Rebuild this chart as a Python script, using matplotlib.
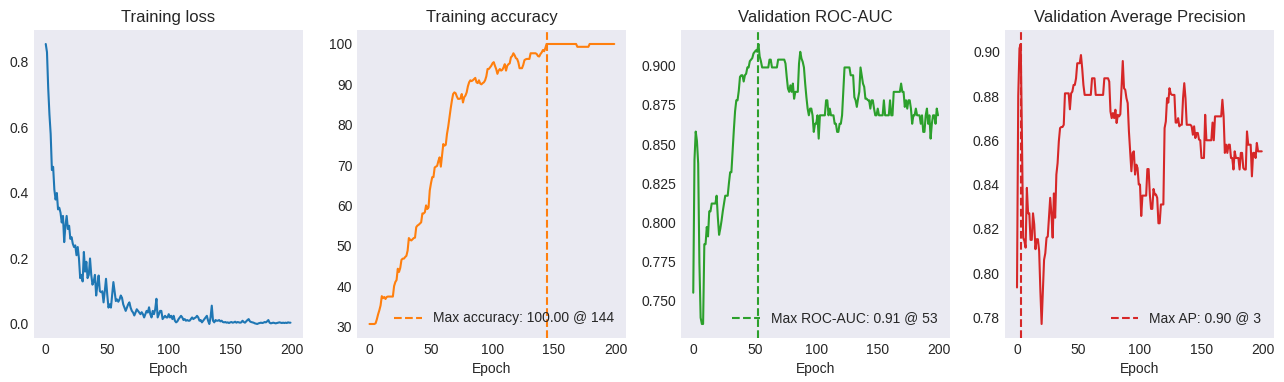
import matplotlib
matplotlib.use("Agg")
import matplotlib.pyplot as plt
import numpy as np

plt.style.use("seaborn-v0_8-dark")

epochs = list(range(200))

train_loss = [
    0.855, 0.83, 0.72, 0.64, 0.58, 0.47, 0.48, 0.41, 0.38, 0.40,
    0.35, 0.355, 0.34, 0.31, 0.33, 0.25, 0.30, 0.33, 0.29, 0.30,
    0.26, 0.265, 0.245, 0.235, 0.24, 0.21, 0.235, 0.20, 0.14, 0.15,
    0.13, 0.22, 0.16, 0.19, 0.14, 0.15, 0.20, 0.15, 0.12, 0.13,
    0.15, 0.087, 0.12, 0.148, 0.10, 0.097, 0.10, 0.066, 0.10, 0.138,
    0.09, 0.05, 0.06, 0.05, 0.09, 0.128, 0.10, 0.07, 0.075, 0.068,
    0.075, 0.087, 0.08, 0.06, 0.05, 0.04, 0.05, 0.06, 0.066, 0.05,
    0.04, 0.035, 0.026, 0.035, 0.045, 0.04, 0.035, 0.03, 0.036, 0.03,
    0.02, 0.03, 0.04, 0.035, 0.051, 0.03, 0.02, 0.04, 0.03, 0.045,
    0.077, 0.02, 0.03, 0.04, 0.04, 0.015, 0.02, 0.025, 0.02, 0.02,
    0.03, 0.02, 0.025, 0.015, 0.025, 0.01, 0.005, 0.008, 0.015, 0.02,
    0.025, 0.02, 0.012, 0.015, 0.01, 0.012, 0.01, 0.01, 0.015, 0.02,
    0.015, 0.018, 0.02, 0.025, 0.02, 0.01, 0.012, 0.005, 0.01, 0.015,
    0.02, 0.025, 0.01, 0.0, 0.02, 0.056, 0.01, 0.005, 0.012, 0.01,
    0.01, 0.012, 0.008, 0.01, 0.006, 0.005, 0.006, 0.004, 0.005, 0.003,
    0.005, 0.006, 0.004, 0.005, 0.007, 0.004, 0.006, 0.005, 0.004, 0.005,
    0.01, 0.006, 0.004, 0.008, 0.012, 0.015, 0.008, 0.006, 0.005, 0.004,
    0.002, 0.001, 0.0, 0.002, 0.003, 0.004, 0.003, 0.004, 0.006, 0.005,
    0.008, 0.012, 0.004, 0.002, 0.003, 0.004, 0.003, 0.002, 0.003, 0.004,
    0.005, 0.004, 0.003, 0.004, 0.003, 0.004, 0.003, 0.005, 0.004, 0.004,
]

train_acc = [
    30.6, 30.6, 30.6, 30.6, 30.6, 30.8, 31.8, 33.0, 34.0, 35.2,
    37.5, 37.0, 37.3, 36.8, 37.3, 37.4, 37.4, 37.4, 37.4, 37.4,
    40.0, 41.0, 41.5, 44.3, 43.5, 44.5, 46.5, 46.8, 46.8, 47.2,
    47.5, 48.8, 51.9, 51.5, 51.3, 51.6, 51.9, 52.0, 54.6, 55.0,
    55.2, 55.5, 55.8, 58.0, 58.0, 58.3, 60.0, 59.1, 59.5, 63.7,
    65.5, 67.0, 67.0, 69.4, 69.6, 69.8, 71.0, 71.9, 69.6, 72.5,
    75.2, 74.8, 75.0, 77.7, 79.5, 81.8, 84.0, 86.0, 87.6, 88.0,
    87.8, 87.0, 86.4, 86.4, 86.5, 87.6, 85.5, 86.8, 87.2, 88.0,
    89.5, 90.5, 91.0, 90.8, 91.0, 91.3, 91.6, 90.5, 90.3, 91.0,
    90.2, 90.0, 90.3, 90.5, 91.0, 92.0, 93.8, 93.8, 94.2, 94.6,
    95.2, 95.5, 94.6, 93.8, 92.6, 93.4, 93.8, 93.4, 93.6, 94.2,
    95.0, 93.4, 94.6, 95.0, 95.2, 96.7, 97.0, 97.7, 97.2, 96.5,
    96.3, 95.5, 94.0, 94.0, 94.0, 94.8, 96.0, 96.2, 96.3, 96.3,
    96.3, 97.7, 97.7, 97.7, 97.7, 97.7, 97.5, 97.0, 96.9, 97.5,
    97.9, 98.5, 98.2, 99.0, 100.0, 100.0, 100.0, 100.0, 100.0, 100.0,
    100.0, 100.0, 100.0, 100.0, 100.0, 100.0, 100.0, 100.0, 100.0, 100.0,
    100.0, 100.0, 100.0, 100.0, 100.0, 100.0, 100.0, 100.0, 100.0, 99.3,
    99.3, 99.3, 99.3, 99.3, 99.3, 99.3, 99.3, 99.3, 99.3, 100.0,
    100.0, 100.0, 100.0, 100.0, 100.0, 100.0, 100.0, 100.0, 100.0, 100.0,
    100.0, 100.0, 100.0, 100.0, 100.0, 100.0, 100.0, 100.0, 100.0, 100.0,
]

val_roc_auc = [
    0.755, 0.840, 0.858, 0.852, 0.8375, 0.774, 0.739, 0.735, 0.735, 0.786,
    0.786, 0.797, 0.791, 0.807, 0.807, 0.812, 0.812, 0.812, 0.812, 0.817,
    0.803, 0.792, 0.796, 0.801, 0.807, 0.812, 0.817, 0.817, 0.817, 0.825,
    0.832, 0.832, 0.846, 0.859, 0.871, 0.878, 0.878, 0.884, 0.893, 0.894,
    0.894, 0.890, 0.894, 0.895, 0.899, 0.899, 0.903, 0.904, 0.905, 0.908,
    0.909, 0.910, 0.909, 0.914, 0.906, 0.903, 0.899, 0.899, 0.899, 0.899,
    0.899, 0.899, 0.904, 0.904, 0.899, 0.899, 0.899, 0.899, 0.899, 0.904,
    0.904, 0.904, 0.904, 0.904, 0.904, 0.9015, 0.893, 0.8855, 0.8834, 0.8876,
    0.8834, 0.8887, 0.879, 0.8834, 0.8834, 0.8834, 0.9015, 0.909, 0.9047, 0.9026,
    0.899, 0.8887, 0.880, 0.8727, 0.8684, 0.8727, 0.8727, 0.8684, 0.8578, 0.863,
    0.863, 0.8684, 0.8535, 0.8684, 0.8684, 0.8684, 0.8684, 0.8684, 0.878, 0.878,
    0.8684, 0.8727, 0.8684, 0.8684, 0.8684, 0.863, 0.863, 0.8578, 0.8578, 0.863,
    0.863, 0.8684, 0.8834, 0.899, 0.899, 0.899, 0.899, 0.899, 0.894, 0.894,
    0.894, 0.880, 0.878, 0.8738, 0.879, 0.8834, 0.899, 0.894, 0.8887, 0.8866,
    0.879, 0.879, 0.878, 0.878, 0.8727, 0.878, 0.878, 0.8727, 0.8684, 0.8684,
    0.8727, 0.8684, 0.8684, 0.8684, 0.8684, 0.878, 0.8684, 0.8684, 0.8684, 0.8684,
    0.878, 0.8684, 0.8684, 0.8834, 0.8834, 0.8834, 0.8834, 0.8834, 0.8834, 0.8887,
    0.8834, 0.8834, 0.8738, 0.878, 0.8727, 0.878, 0.878, 0.8727, 0.863, 0.8684,
    0.8684, 0.8727, 0.8684, 0.8684, 0.8684, 0.863, 0.8684, 0.8578, 0.8578, 0.8684,
    0.8727, 0.863, 0.8684, 0.8535, 0.863, 0.8684, 0.8684, 0.863, 0.8727, 0.8684,
]

val_ap = [
    0.7935, 0.880, 0.9015, 0.9035, 0.862, 0.816, 0.8145, 0.8115, 0.8385, 0.827,
    0.827, 0.815, 0.815, 0.827, 0.822, 0.8108, 0.8153, 0.8153, 0.810, 0.792,
    0.777, 0.792, 0.806, 0.809, 0.816, 0.8165, 0.825, 0.834, 0.8265, 0.816,
    0.836, 0.825, 0.8445, 0.8497, 0.8595, 0.8655, 0.866, 0.866, 0.867, 0.8812,
    0.8812, 0.8812, 0.8812, 0.874, 0.8812, 0.882, 0.885, 0.885, 0.888, 0.8948,
    0.8948, 0.8948, 0.8985, 0.8925, 0.885, 0.8805, 0.8805, 0.8805, 0.8805, 0.8805,
    0.8805, 0.888, 0.888, 0.888, 0.8805, 0.8805, 0.8805, 0.8805, 0.8805, 0.8805,
    0.8805, 0.888, 0.888, 0.888, 0.888, 0.8865, 0.873, 0.870, 0.8723, 0.870,
    0.8738, 0.8678, 0.8715, 0.8708, 0.8718, 0.8835, 0.8958, 0.8835, 0.8828, 0.879,
    0.8768, 0.864, 0.855, 0.846, 0.8543, 0.855, 0.8445, 0.849, 0.8475, 0.840,
    0.840, 0.8258, 0.835, 0.835, 0.835, 0.835, 0.847, 0.847, 0.8355, 0.829,
    0.829, 0.838, 0.8355, 0.8355, 0.834, 0.8225, 0.8225, 0.831, 0.831, 0.831,
    0.8655, 0.8685, 0.879, 0.877, 0.8835, 0.881, 0.8805, 0.8805, 0.8805, 0.868,
    0.868, 0.870, 0.8663, 0.867, 0.867, 0.879, 0.8858, 0.879, 0.867, 0.867,
    0.867, 0.867, 0.8663, 0.8625, 0.8663, 0.861, 0.8633, 0.8633, 0.8603, 0.860,
    0.852, 0.852, 0.852, 0.8715, 0.860, 0.860, 0.860, 0.860, 0.860, 0.868,
    0.860, 0.8708, 0.8708, 0.8708, 0.8708, 0.8708, 0.8708, 0.8783, 0.8708, 0.8543,
    0.8580, 0.8543, 0.8580, 0.8580, 0.852, 0.852, 0.8468, 0.855, 0.852, 0.852,
    0.852, 0.8468, 0.8543, 0.8543, 0.8475, 0.8468, 0.8468, 0.864, 0.858, 0.858,
    0.858, 0.8437, 0.8543, 0.8543, 0.852, 0.8588, 0.855, 0.855, 0.855, 0.855,
]

titles = ["Training loss", "Training accuracy", "Validation ROC-AUC", "Validation Average Precision"]
colors = ["C0", "C1", "C2", "C3"]

fig, axes = plt.subplots(1, 4, figsize=(12.84, 3.82), dpi=100)
fig.subplots_adjust(left=0.0261, right=0.9922, top=0.9215, bottom=0.1152, wspace=0.2026)

ax = axes[0]
ax.plot(epochs, train_loss, color=colors[0])
ax.set_title(titles[0])
ax.set_xlabel("Epoch")

ax = axes[1]
ax.plot(epochs, train_acc, color=colors[1])
best = int(np.argmax(train_acc))
ax.axvline(best, color=colors[1], linestyle="--",
           label=f"Max accuracy: {max(train_acc):.2f} @ {best}")
ax.set_title(titles[1])
ax.set_xlabel("Epoch")
ax.legend(loc="lower right")

ax = axes[2]
ax.plot(epochs, val_roc_auc, color=colors[2])
best = int(np.argmax(val_roc_auc))
ax.axvline(best, color=colors[2], linestyle="--",
           label=f"Max ROC-AUC: {max(val_roc_auc):.2f} @ {best}")
ax.set_title(titles[2])
ax.set_xlabel("Epoch")
ax.legend(loc="lower right")

ax = axes[3]
ax.plot(epochs, val_ap, color=colors[3])
best = int(np.argmax(val_ap))
ax.axvline(best, color=colors[3], linestyle="--",
           label=f"Max AP: {max(val_ap):.2f} @ {best}")
ax.set_title(titles[3])
ax.set_xlabel("Epoch")
ax.legend(loc="lower right")

fig.savefig("out.png", dpi=100)
